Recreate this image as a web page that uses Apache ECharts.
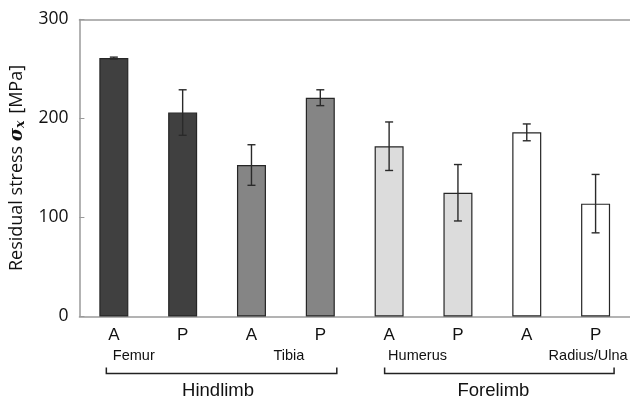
<!DOCTYPE html>
<html>
<head>
<meta charset="utf-8">
<script src="https://cdn.jsdelivr.net/npm/echarts@6/dist/echarts.min.js"></script>
<style>
  html, body { margin: 0; padding: 0; background: #fff; }
  #chart { width: 630px; height: 400px; }
</style>
</head>
<body>
<div id="chart"></div>
<script>
// Residual stress (MPa) at anterior (A) and posterior (P) sites of each bone
const categories = ['A', 'P', 'A', 'P', 'A', 'P', 'A', 'P'];
const bones = ['Femur', 'Tibia', 'Humerus', 'Radius/Ulna'];
const limbs = ['Hindlimb', 'Forelimb'];
const meanStress = [261, 206, 153, 221, 172, 125, 186, 114];
const stressSD = [1, 23, 20.5, 8, 24.5, 28.5, 8.5, 29.5];
const yTicks = [0, 100, 200, 300];

// one fill per bone, two bars per bone
const boneFills = ['#404040', '#858585', '#dcdcdc', '#ffffff'];

const chart = echarts.init(document.getElementById('chart'), null, { renderer: 'canvas' });

const axisGray = '#9a9a9a';
const textFont = '"Liberation Sans", Arial, sans-serif';
const numFont = '"Open Sans", "Noto Sans", sans-serif';

chart.setOption({
  animation: false,
  backgroundColor: '#fff',
  grid: { left: 78, right: 0, top: 19.5, bottom: 83.5, containLabel: false },
  xAxis: [
    {
      type: 'category',
      data: categories,
      boundaryGap: true,
      axisLine: { lineStyle: { color: axisGray, width: 1.5 } },
      axisTick: {
        inside: true,
        length: 4,
        lineStyle: { color: axisGray },
        interval: (idx) => idx > 0 && idx % 2 === 0
      },
      axisLabel: { fontSize: 17, color: '#111', fontFamily: textFont, margin: 10 }
    },
    {
      // plain frame line along the top of the plot
      type: 'category',
      data: categories,
      position: 'top',
      axisLine: { lineStyle: { color: axisGray, width: 1.5 } },
      axisTick: { show: false },
      axisLabel: { show: false }
    }
  ],
  yAxis: {
    type: 'value',
    min: yTicks[0],
    max: yTicks[yTicks.length - 1],
    interval: yTicks[1] - yTicks[0],
    axisLine: { show: true, lineStyle: { color: axisGray, width: 1.5 } },
    axisTick: { show: true, inside: true, length: 5, lineStyle: { color: axisGray } },
    splitLine: { show: false },
    axisLabel: { fontSize: 17.5, color: '#111', fontFamily: numFont, margin: 11 },
    name: 'Residual stress {s|σ}{x|x} [MPa]',
    nameLocation: 'middle',
    nameGap: 49,
    nameTextStyle: {
      fontSize: 18,
      color: '#111',
      fontFamily: numFont,
      rich: {
        s: { fontSize: 18, fontStyle: 'italic', fontWeight: 'bold', fontFamily: '"DejaVu Serif", serif', color: '#111' },
        x: { fontSize: 12.5, fontStyle: 'italic', fontWeight: 'bold', fontFamily: '"DejaVu Serif", serif', color: '#111', padding: [8, 2, 0, 0] }
      }
    }
  },
  series: [
    {
      type: 'bar',
      barWidth: 29,
      data: meanStress.map((v, i) => ({
        value: v,
        itemStyle: { color: boneFills[Math.floor(i / 2)] }
      })),
      itemStyle: { borderColor: '#262626', borderWidth: 1.2 }
    },
    {
      type: 'custom',
      data: meanStress.map((v, i) => [i, v, stressSD[i]]),
      encode: { x: 0, y: 1 },
      z: 10,
      renderItem: (params, api) => {
        const idx = api.value(0);
        const m = api.value(1);
        const e = api.value(2);
        const hi = api.coord([idx, m + e]);
        const lo = api.coord([idx, m - e]);
        const hw = 4;
        const style = { stroke: '#2a2a2a', lineWidth: 1.4 };
        return {
          type: 'group',
          children: [
            { type: 'line', shape: { x1: hi[0], y1: hi[1], x2: lo[0], y2: lo[1] }, style },
            { type: 'line', shape: { x1: hi[0] - hw, y1: hi[1], x2: hi[0] + hw, y2: hi[1] }, style },
            { type: 'line', shape: { x1: lo[0] - hw, y1: lo[1], x2: lo[0] + hw, y2: lo[1] }, style }
          ]
        };
      }
    }
  ]
});

// Bone names, limb brackets and limb names under the category labels
function drawGroups() {
  const cx = (i) => chart.convertToPixel({ xAxisIndex: 0 }, i);
  const y0 = chart.convertToPixel({ yAxisIndex: 0 }, 0);
  const boneY = y0 + 39;
  const bracketY = y0 + 57;
  const limbY = y0 + 74;
  const g = [];
  const boneStyle = { fontSize: 14.5, fontFamily: textFont, fill: '#111' };

  // bone names: first name of each limb is left-aligned under its A bar,
  // second name right-aligned under its P bar
  bones.forEach((name, b) => {
    const left = b % 2 === 0;
    const x = left ? cx(b * 2) - 1 : cx(b * 2 + 1) + (b === 1 ? -16 : 32);
    g.push({
      type: 'text',
      x, y: boneY,
      style: Object.assign({ text: name, align: left ? 'left' : 'right', verticalAlign: 'middle' }, boneStyle)
    });
  });

  limbs.forEach((name, l) => {
    const first = l * 4;
    const last = first + 3;
    const x1 = cx(first) + (l === 0 ? -7.5 : -4.5);
    const x2 = cx(last) + (l === 0 ? 16.5 : 18.5);
    g.push({
      type: 'polyline',
      shape: { points: [[x1, bracketY - 6], [x1, bracketY], [x2, bracketY], [x2, bracketY - 6]] },
      style: { stroke: '#222', lineWidth: 1.5, fill: null }
    });
    const mid = (cx(first + 1) + cx(first + 2)) / 2;
    g.push({
      type: 'text',
      x: mid + 1, y: limbY,
      style: { text: name, align: 'center', verticalAlign: 'middle', fontSize: 18.5, fontFamily: textFont, fill: '#111' }
    });
  });

  chart.setOption({ graphic: g });
}
drawGroups();
</script>
</body>
</html>
